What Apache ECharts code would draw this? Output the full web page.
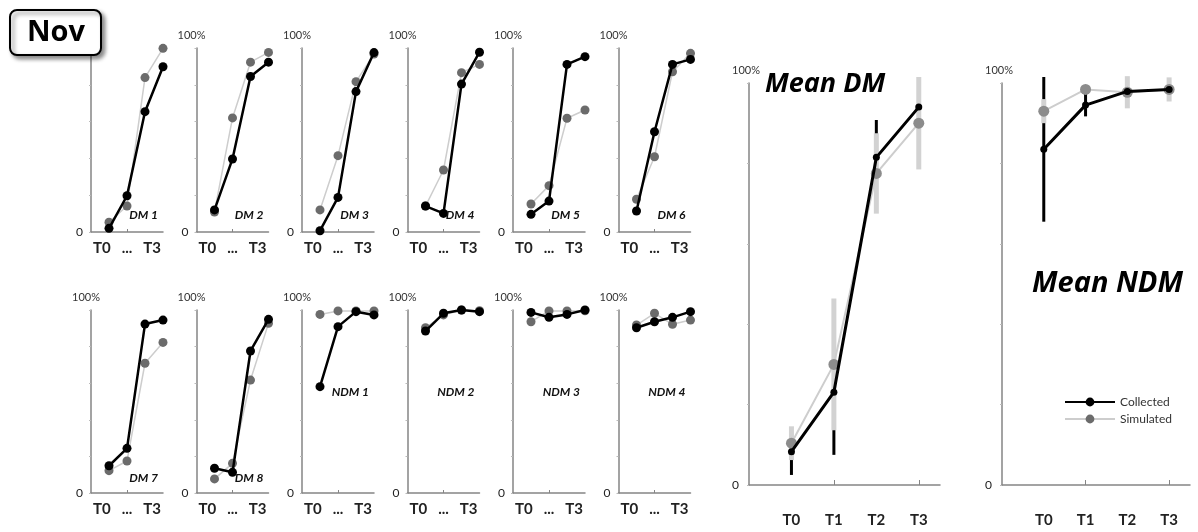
<!DOCTYPE html>
<html>
<head>
<meta charset="utf-8">
<script src="https://cdn.jsdelivr.net/npm/echarts@6/dist/echarts.min.js"></script>
<style>
html,body{margin:0;padding:0;background:#fff;}
#chart{width:1198px;height:532px;}
</style>
</head>
<body>
<div id="chart"></div>
<script>
var chart = echarts.init(document.getElementById('chart'));

// small panels
var panelNames = ['DM 1','DM 2','DM 3','DM 4','DM 5','DM 6','DM 7','DM 8','NDM 1','NDM 2','NDM 3','NDM 4'];
var collected = [
  [2, 19.7, 65.4, 89.8],
  [12, 39.7, 84.5, 92.3],
  [0.7, 18.8, 76.3, 97.5],
  [14.1, 10.1, 80.4, 97.7],
  [9.6, 16.8, 91.1, 95.3],
  [11.4, 54.5, 91.1, 93.8],
  [14.9, 24.4, 92.3, 94.5],
  [13.5, 11.3, 77.6, 94.9],
  [58.1, 90.9, 99.1, 97.3],
  [88.5, 98.2, 100, 99.1],
  [98.7, 96, 97.6, 100],
  [90.3, 93.6, 96, 99.1]
];
var simulated = [
  [5.3, 14.1, 83.9, 99.8],
  [10.9, 62, 92.3, 97.6],
  [12, 41.5, 81.7, 96.7],
  [14.1, 33.7, 86.6, 91.1],
  [15.2, 25.2, 61.8, 66.3],
  [17.8, 40.9, 87.1, 97.1],
  [12.2, 17.5, 70.9, 82.3],
  [7.7, 16.2, 61.7, 92.7],
  [97.6, 99.5, 99.5, 99.5],
  [90.3, 97.3, 100, 99.6],
  [93.6, 99.5, 99.5, 99.6],
  [91.8, 98.2, 92.2, 94.5]
];
var smallAxisName = 'T0   ...   T3';

// mean panels
var meanCats = ['T0', 'T1', 'T2', 'T3'];
var dmCollected = [8.3, 23.1, 81.5, 94];
var dmCollectedErr = [5.8, 15.6, 9.3, 2];
var dmSimulated = [10.4, 30, 77.5, 90];
var dmSimulatedErr = [4.2, 16.4, 10, 11.5];
var ndmCollected = [83.5, 94.5, 97.9, 98.4];
var ndmCollectedErr = [18, 2.8, 1, 1];
var ndmSimulated = [93, 98.4, 97.7, 98.4];
var ndmSimulatedErr = [3, 1, 4, 3];

var font = 'Lato, "Open Sans", sans-serif';
var titleFont = '"Open Sans", Lato, sans-serif';
var axisGray = '#858585';

function pts(a){
  var k = [];
  for (var i = 0; i < a.length; i++) k.push([i, a[i]]);
  return k;
}
function errs(a, e){
  var k = [];
  for (var i = 0; i < a.length; i++) k.push([i, a[i] - e[i], a[i] + e[i]]);
  return k;
}
function errRender(color, width){
  return function(params, api){
    var x = api.value(0);
    var lo = api.coord([x, api.value(1)]);
    var hi = api.coord([x, api.value(2)]);
    return {
      type: 'line',
      shape: {x1: lo[0], y1: lo[1], x2: hi[0], y2: hi[1]},
      style: {stroke: color, lineWidth: width}
    };
  };
}
function zeroOnly(v){ return v === 0 ? '0' : ''; }
function meanLabel(v){ return meanCats[v] || ''; }

var grids = [], xAxes = [], yAxes = [], series = [], graphics = [];

for (var i = 0; i < panelNames.length; i++) {
  var row = i < 6 ? 0 : 1;
  var colIdx = i % 6;
  var gLeft = 91 + colIdx * 105.5;
  var gTop = row === 0 ? 48 : 310;
  var gH = row === 0 ? 184 : 183;
  grids.push({left: gLeft, top: gTop, width: 72, height: gH});
  xAxes.push({
    type: 'value', gridIndex: i, min: -1, max: 3, interval: 1,
    splitLine: {show: false},
    axisLine: {onZero: false, lineStyle: {color: axisGray, width: 1.5}},
    axisTick: {customValues: [1], inside: true, length: 3, lineStyle: {color: axisGray}},
    axisLabel: {show: false},
    name: smallAxisName, nameLocation: 'middle', nameGap: 9,
    nameTextStyle: {fontFamily: font, fontSize: 15, color: '#222', fontWeight: 'bold'}
  });
  yAxes.push({
    type: 'value', gridIndex: i, min: 0, max: 100, interval: 20,
    splitLine: {show: false},
    axisLine: {show: true, onZero: false, lineStyle: {color: axisGray, width: 1.5}},
    axisTick: {show: true, length: 2, lineStyle: {color: '#bbb'}},
    axisLabel: {formatter: zeroOnly, fontFamily: font, fontSize: 12, color: '#222', margin: 8},
    name: '100%', nameLocation: 'end', nameGap: 7,
    nameTextStyle: {fontFamily: font, fontSize: 11, color: '#333', padding: [0, 10, 0, 0]}
  });
  series.push({
    name: 'Simulated', type: 'line', xAxisIndex: i, yAxisIndex: i, z: 3,
    data: pts(simulated[i]), symbol: 'circle', symbolSize: 9,
    lineStyle: {color: '#cdcdcd', width: 1.5},
    itemStyle: {color: '#6b6b6b'}
  });
  series.push({
    name: 'Collected', type: 'line', xAxisIndex: i, yAxisIndex: i, z: 4,
    data: pts(collected[i]), symbol: 'circle', symbolSize: 9,
    lineStyle: {color: '#000', width: 2.5},
    itemStyle: {color: '#000'}
  });
  var isNdm = panelNames[i].indexOf('NDM') === 0;
  graphics.push({
    type: 'text', z: 10,
    x: gLeft + 67,
    y: row === 0 ? 215 : (isNdm ? 392 : 478),
    style: {text: panelNames[i], fill: '#111', align: 'right', verticalAlign: 'middle',
      font: 'italic bold 12px ' + font}
  });
}

var bigPanels = [
  {left: 749, width: 191, col: dmCollected, colErr: dmCollectedErr, sim: dmSimulated, simErr: dmSimulatedErr},
  {left: 1002, width: 188, col: ndmCollected, colErr: ndmCollectedErr, sim: ndmSimulated, simErr: ndmSimulatedErr}
];
for (var b = 0; b < bigPanels.length; b++) {
  var p = bigPanels[b];
  var gi = grids.length;
  grids.push({left: p.left, top: 83, width: p.width, height: 402});
  xAxes.push({
    type: 'value', gridIndex: gi, min: -1, max: 3.5, interval: 1,
    splitLine: {show: false},
    axisLine: {onZero: false, lineStyle: {color: axisGray, width: 1.5}},
    axisTick: {customValues: [1, 3], inside: true, length: 5, lineStyle: {color: axisGray}},
    axisLabel: {customValues: [0, 1, 2, 3], formatter: meanLabel,
      fontFamily: font, fontSize: 15, fontWeight: 'bold', color: '#222', margin: 28}
  });
  yAxes.push({
    type: 'value', gridIndex: gi, min: 0, max: 100, interval: 20,
    splitLine: {show: false},
    axisLine: {show: true, onZero: false, lineStyle: {color: axisGray, width: 1.5}},
    axisTick: {show: true, length: 2, lineStyle: {color: '#bbb'}},
    axisLabel: {formatter: zeroOnly, fontFamily: font, fontSize: 12, color: '#222', margin: 10},
    name: '100%', nameLocation: 'end', nameGap: 7,
    nameTextStyle: {fontFamily: font, fontSize: 11, color: '#333', padding: [0, 6, 0, 0]}
  });
  series.push({
    type: 'custom', xAxisIndex: gi, yAxisIndex: gi, z: 1,
    renderItem: errRender('#000', 3), data: errs(p.col, p.colErr)
  });
  series.push({
    type: 'custom', xAxisIndex: gi, yAxisIndex: gi, z: 2,
    renderItem: errRender('#d2d2d2', 5), data: errs(p.sim, p.simErr)
  });
  series.push({
    name: 'Simulated', type: 'line', xAxisIndex: gi, yAxisIndex: gi, z: 3,
    data: pts(p.sim), symbol: 'circle', symbolSize: 11,
    lineStyle: {color: '#cdcdcd', width: 2},
    itemStyle: {color: '#8c8c8c'}
  });
  series.push({
    name: 'Collected', type: 'line', xAxisIndex: gi, yAxisIndex: gi, z: 4,
    data: pts(p.col), symbol: 'circle', symbolSize: 7,
    lineStyle: {color: '#000', width: 3},
    itemStyle: {color: '#000'}
  });
}

graphics.push({
  type: 'text', z: 10, x: 765, y: 84,
  style: {text: 'Mean DM', fill: '#000', align: 'left', verticalAlign: 'middle',
    font: 'italic bold 27px ' + titleFont}
});
graphics.push({
  type: 'text', z: 10, x: 1032, y: 284,
  style: {text: 'Mean NDM', fill: '#000', align: 'left', verticalAlign: 'middle',
    font: 'italic bold 29px ' + titleFont}
});
graphics.push({
  type: 'rect', z: 20,
  shape: {x: 10, y: 10, width: 91, height: 45, r: 7},
  style: {fill: '#fff', stroke: '#000', lineWidth: 2,
    shadowBlur: 4, shadowOffsetX: 3, shadowOffsetY: 3, shadowColor: 'rgba(0,0,0,0.45)'}
});
graphics.push({
  type: 'text', z: 21, x: 56, y: 33,
  style: {text: 'Nov', fill: '#000', align: 'center', verticalAlign: 'middle',
    font: 'bold 29px ' + titleFont}
});

var option = {
  animation: false,
  backgroundColor: '#fff',
  textStyle: {fontFamily: font},
  legend: {
    data: ['Collected', 'Simulated'],
    orient: 'vertical', left: 1059, top: 391,
    itemWidth: 50, itemHeight: 11, itemGap: 5,
    textStyle: {fontFamily: font, fontSize: 12, color: '#333'}
  },
  grid: grids,
  xAxis: xAxes,
  yAxis: yAxes,
  series: series,
  graphic: graphics
};
chart.setOption(option);
</script>
</body>
</html>
